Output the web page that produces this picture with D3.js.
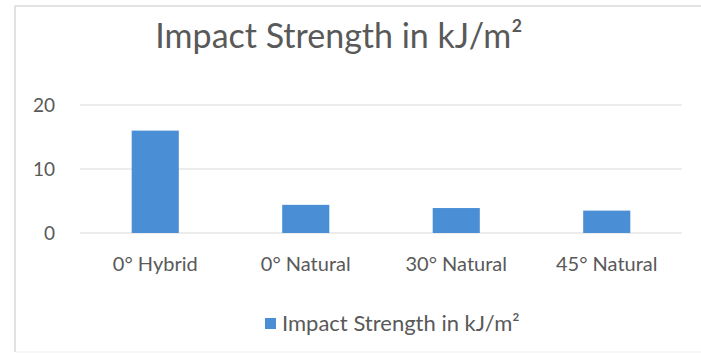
<!DOCTYPE html>
<html>
<head>
<meta charset="utf-8">
<script src="https://cdn.jsdelivr.net/npm/d3@7"></script>
<style>
  html, body { margin: 0; padding: 0; background: #fff; }
  svg { display: block; }
  text { font-family: Lato, "Open Sans", sans-serif; fill: #595959; }
</style>
</head>
<body>
<svg id="chart" width="701" height="355"></svg>
<script>
// Chart data
const categories = ["0° Hybrid", "0° Natural", "30° Natural", "45° Natural"];
const values = [16.0, 4.4, 3.9, 3.5];
const yTicks = [0, 10, 20];
const seriesName = "Impact Strength in kJ/m²";
const chartTitle = "Impact Strength in kJ/m²";

const W = 701, H = 355;
const plot = { left: 80, right: 682, top: 105, bottom: 233 };
const barColor = "#4a8fd6";

const svg = d3.select("#chart");

// Outer chart frame
svg.append("line").attr("x1", 15).attr("x2", W).attr("y1", 6).attr("y2", 6)
  .attr("stroke", "#d9d9d9").attr("stroke-width", 1.5);
svg.append("line").attr("x1", 15).attr("x2", 15).attr("y1", 6).attr("y2", H - 3)
  .attr("stroke", "#d9d9d9").attr("stroke-width", 1.5);
svg.append("line").attr("x1", 15).attr("x2", W).attr("y1", H - 3).attr("y2", H - 3)
  .attr("stroke", "#f0f0f0").attr("stroke-width", 1);

const x = d3.scaleBand()
  .domain(categories)
  .range([plot.left, plot.right])
  .paddingInner(0.687)
  .paddingOuter(0.3435);

const y = d3.scaleLinear()
  .domain([0, 20])
  .range([plot.bottom, plot.top]);

// Gridlines
svg.append("g")
  .selectAll("line")
  .data(yTicks)
  .join("line")
  .attr("x1", plot.left).attr("x2", plot.right)
  .attr("y1", d => y(d)).attr("y2", d => y(d))
  .attr("stroke", "#d9d9d9").attr("stroke-width", 1);

// Y axis labels
const yAxis = d3.axisLeft(y).tickValues(yTicks).tickSize(0).tickPadding(0);
const gy = svg.append("g").attr("transform", `translate(${plot.left - 25},0)`).call(yAxis);
gy.select(".domain").remove();
gy.selectAll("text").attr("font-size", 19).style("font-family", "Lato, sans-serif").attr("fill", "#595959");

// Bars
svg.append("g")
  .selectAll("rect")
  .data(values)
  .join("rect")
  .attr("x", (d, i) => x(categories[i]))
  .attr("width", x.bandwidth())
  .attr("y", d => y(d))
  .attr("height", d => y(0) - y(d))
  .attr("fill", barColor);

// Category axis labels
const xAxis = d3.axisBottom(x).tickSize(0).tickPadding(0);
const gx = svg.append("g").attr("transform", `translate(0,${plot.bottom + 24})`).call(xAxis);
gx.select(".domain").remove();
gx.selectAll("text").attr("font-size", 20).style("font-family", "Lato, sans-serif").attr("fill", "#595959");

// Title
svg.append("text")
  .attr("x", 339).attr("y", 48)
  .attr("text-anchor", "middle")
  .attr("font-size", 34)
  .text(chartTitle);

// Legend
const legend = svg.append("g").attr("transform", "translate(265,323)");
legend.append("rect").attr("x", 0).attr("y", -5).attr("width", 11).attr("height", 11).attr("fill", barColor);
legend.append("text").attr("x", 17).attr("y", 0).attr("dy", "0.35em")
  .attr("font-size", 22).text(seriesName);
</script>
</body>
</html>
